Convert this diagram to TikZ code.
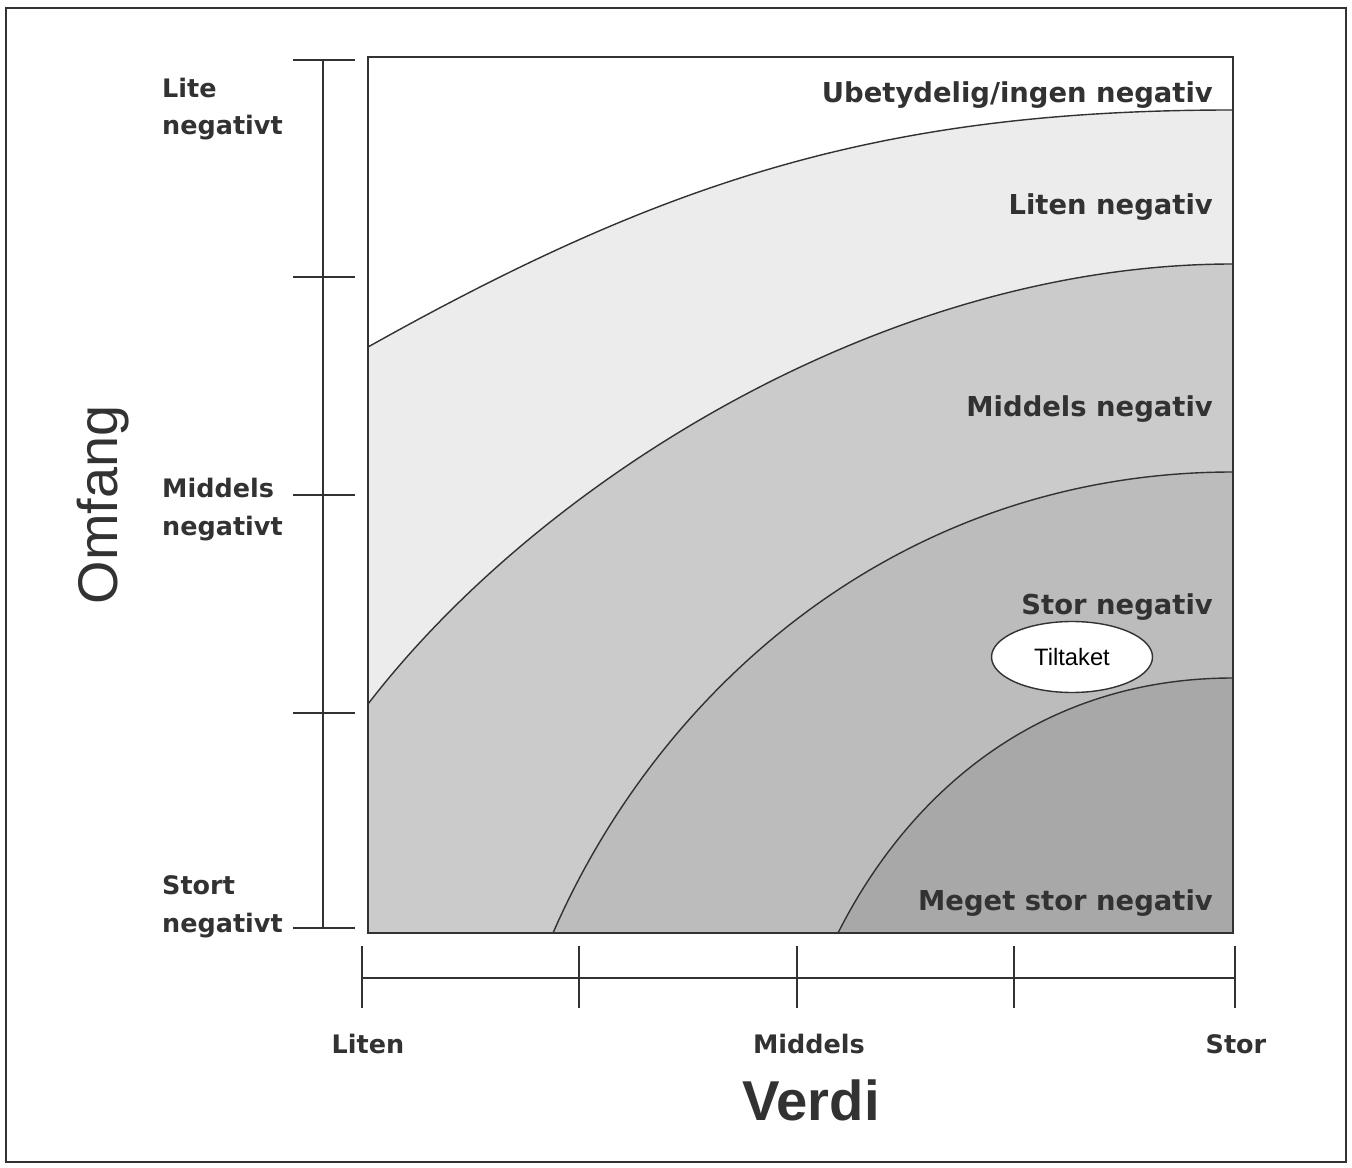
\documentclass[tikz,border=0pt]{standalone}
\usepackage{fontspec}
\setmainfont{Liberation Sans}
\newfontfamily\heavyfont{DejaVu Sans}
\usetikzlibrary{shapes.geometric}

\definecolor{inkgray}{RGB}{50,50,50}
\definecolor{zonetwo}{RGB}{236,236,236}
\definecolor{zonethree}{RGB}{203,203,203}
\definecolor{zonefour}{RGB}{188,188,188}
\definecolor{zonefive}{RGB}{168,168,168}

\tikzset{
  zonelabel/.style={anchor=base east, text=inkgray,
    font=\heavyfont\bfseries\fontsize{15.6}{18}\selectfont},
  scalelabel/.style={anchor=base west, text=inkgray,
    font=\heavyfont\bfseries\fontsize{14.5}{17}\selectfont},
  ticklabel/.style={anchor=base, text=inkgray,
    font=\heavyfont\bfseries\fontsize{14.5}{17}\selectfont},
  axistitle/.style={anchor=base, text=inkgray},
  band/.style={draw=inkgray, line width=0.8pt},
  axisline/.style={draw=inkgray, line width=1pt},
}

\begin{document}
\begin{tikzpicture}[x=0.02cm, y=-0.02cm]
   \useasboundingbox (0,0) rectangle (1352,1168);
   \draw[color=inkgray, line width=1pt] (6,8) rectangle (1346,1162);

   % the five bands of the plot
   \fill[white] (368,57) rectangle (1233,933);
   \filldraw[band, fill=zonetwo] (368,347) .. controls (668,179) and (883,110) .. (1233,110)
      -- (1233,933) -- (368,933) -- cycle;
   \filldraw[band, fill=zonethree] (368,704) .. controls (538,483) and (883,264) .. (1233,264)
      -- (1233,933) -- (368,933) -- cycle;
   \filldraw[band, fill=zonefour] (553,933) .. controls (661,685) and (903,472) .. (1233,472)
      -- (1233,933) -- cycle;
   \filldraw[band, fill=zonefive] (838,933) .. controls (905,800) and (1033,678) .. (1233,678)
      -- (1233,933) -- cycle;
   \draw[axisline] (368,57) rectangle (1233,933);

   \node[zonelabel] (ubetydelig) at (1219,103) {Ubetydelig/ingen negativ};
   \node[zonelabel] (liten) at (1219,215) {Liten negativ};
   \node[zonelabel] (middels) at (1219,417) {Middels negativ};
   \node[zonelabel] (stor) at (1219,615) {Stor negativ};
   \node[zonelabel] (megetstor) at (1219,910) {Meget stor negativ};
   \node[ellipse, draw=inkgray, line width=0.8pt, fill=white, inner sep=0pt,
      minimum width=3.22cm, minimum height=1.42cm,
      font=\fontsize{13.5}{16}\selectfont] (tiltaket) at (1072,657) {Tiltaket};

   % Omfang axis
   \draw[axisline] (323,60) -- (323,928);
   \draw[axisline] (293,60) -- (355,60);
   \draw[axisline] (293,277) -- (355,277);
   \draw[axisline] (293,495) -- (355,495);
   \draw[axisline] (293,713) -- (355,713);
   \draw[axisline] (293,928) -- (355,928);
   \node[scalelabel] (lite) at (156,98) {Lite};
   \node[scalelabel] (litetwo) at (156,135) {negativt};
   \node[scalelabel] (middelsom) at (156,498) {Middels};
   \node[scalelabel] (middelsomtwo) at (156,536) {negativt};
   \node[scalelabel] (stort) at (156,894) {Stort};
   \node[scalelabel] (storttwo) at (156,932) {negativt};
   \node[axistitle, rotate=90, font=\fontsize{31.8}{36}\selectfont] (omfang) at (117,505) {Omfang};

   % Verdi axis
   \draw[axisline] (362,978) -- (1235,978);
   \draw[axisline] (362,946) -- (362,1008);
   \draw[axisline] (579,946) -- (579,1008);
   \draw[axisline] (797,946) -- (797,1008);
   \draw[axisline] (1014,946) -- (1014,1008);
   \draw[axisline] (1235,946) -- (1235,1008);
   \node[ticklabel] (verdiliten) at (368,1053) {Liten};
   \node[ticklabel] (verdimiddels) at (809,1053) {Middels};
   \node[ticklabel] (verdistor) at (1236,1053) {Stor};
   \node[axistitle, font=\bfseries\fontsize{32}{38}\selectfont] (verdi) at (811,1120) {Verdi};
    \end{tikzpicture}
\end{document}
